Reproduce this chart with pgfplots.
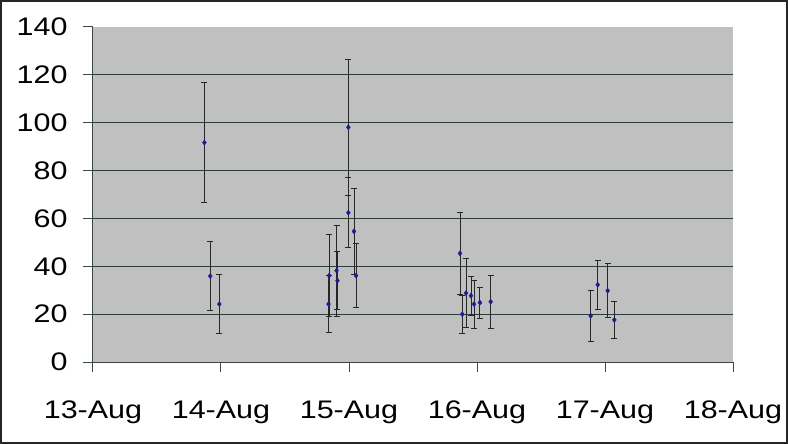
\documentclass[border=0pt]{standalone}
\usepackage{fontspec}
\setmainfont{Liberation Sans}[FakeStretch=1.2]
\usepackage{pgfplots}
\usepackage{pgfplotstable}
\pgfplotsset{compat=1.18}
\definecolor{plotgray}{RGB}{192,192,192}
\definecolor{gridc}{RGB}{45,62,58}
\definecolor{axc}{RGB}{60,70,68}
\definecolor{ptc}{RGB}{30,30,140}
\pgfplotstableread{
x y e
0.870 91.7 25
0.916 35.9 14.5
0.987 24.2 12.2
1.845 36.1 17
1.840 24.2 12
1.903 38.2 19
1.910 34.0 12
1.995 98.1 28.5
1.995 62.4 14.7
2.039 54.6 18
2.055 36.1 13.3
2.867 45.4 17
2.885 20.0 8
2.914 28.8 14.3
2.953 27.7 8.2
2.977 24.2 10
3.023 24.8 6.5
3.107 25.2 11
3.888 19.3 10.7
3.943 32.3 10.2
4.021 29.8 11.2
4.073 17.6 7.9
}\datatable
\begin{document}
\begin{tikzpicture}
\begin{axis}[
  at={(0,0)}, anchor=south west,
  scale only axis,
  width=640bp, height=335bp,
  xmin=0, xmax=5, ymin=0, ymax=140,
  axis background/.style={fill=plotgray},
  axis x line*=bottom, axis y line*=left,
  axis line style={draw=axc, line width=1bp},
  xtick={0,1,2,3,4,5},
  xticklabels={13-Aug,14-Aug,15-Aug,16-Aug,17-Aug,18-Aug},
  ytick={0,140},
  extra y ticks={20,40,60,80,100,120},
  extra y tick style={grid=major},
  grid style={draw=gridc, line width=1.2bp},
  tick align=outside,
  major tick length=10bp,
  tick style={draw=axc, line width=1bp},
  /pgf/number format/assume math mode=true,
  tick label style={font=\fontsize{25.5}{30}\selectfont, text=black},
  xticklabel style={yshift=-25bp},
  yticklabel style={xshift=-12bp},
  clip=false,
]
\addplot[only marks, mark=diamond*, mark size=2.6bp,
  mark options={fill=ptc, draw=ptc},
  error bars/.cd, y dir=both, y explicit,
  error bar style={draw=black!85, line width=0.9bp},
  error mark options={rotate=90, mark size=3bp, draw=black!85, line width=0.9bp}]
  table[x=x, y=y, y error=e] {\datatable};
\end{axis}
\draw[line width=2bp, draw=black!85] (-92bp,-81bp) rectangle (694bp,361bp);
\end{tikzpicture}
\end{document}
